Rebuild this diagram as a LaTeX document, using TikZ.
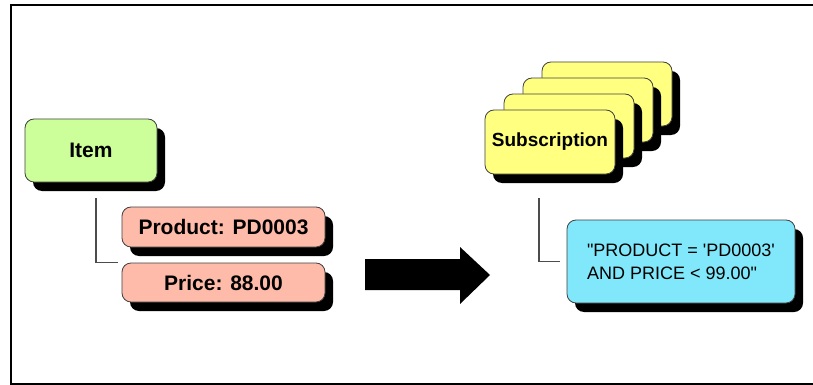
\documentclass[tikz,border=0pt]{standalone}
\usepackage{fontspec}
\setmainfont{Liberation Sans}
\usetikzlibrary{calc,shadows}

\definecolor{itemgreen}{RGB}{204,255,153}
\definecolor{fieldpink}{RGB}{255,187,170}
\definecolor{subyellow}{RGB}{255,255,128}
\definecolor{filtercyan}{RGB}{128,232,250}

\tikzset{
  card/.style={draw=black!75,line width=0.8pt,rounded corners=9pt,inner sep=0pt,
    drop shadow={shadow xshift=8pt,shadow yshift=-9pt,fill=black,opacity=1}},
  bigtext/.style={font=\bfseries\fontsize{21}{25}\selectfont},
  link/.style={draw=black!70,line width=1.2pt}
}

\begin{document}
\begin{tikzpicture}[x=1pt,y=-1pt]
\useasboundingbox (0,0) rectangle (813,385);
\fill[white] (0,0) rectangle (813,385);
\draw[line width=2pt] (813,5) -- (11,5) -- (11,384) -- (813,384); %frame

% left side: the item and its fields
\node[card,bigtext,fill=itemgreen,minimum width=132pt,minimum height=63pt] (item) at (91,150.5) {Item};
\node[card,bigtext,fill=fieldpink,minimum width=203pt,minimum height=40pt] (product) at (223.5,227) {Product: PD0003};
\node[card,bigtext,fill=fieldpink,minimum width=203pt,minimum height=39pt] (price) at (223.5,282.5) {Price: 88.00};
\draw[link] ($(item.south)+(5,16)$) |- ($(price.north west)+(-4,0)$);

% block arrow
\fill (365,259) -- (460,259) -- (460,247) -- (490,275) -- (460,304) -- (460,290) -- (365,290) -- cycle;

% right side: the subscriptions and the filter
\foreach \k in {3,2,1}
  \node[card,fill=subyellow,minimum width=130pt,minimum height=64pt] (sub\k) at ($(550,142)+(19*\k,-16*\k)$) {};
\node[card,fill=subyellow,minimum width=130pt,minimum height=64pt,font=\bfseries\fontsize{19}{23}\selectfont] (sub) at (550,142) {Subscription};
\node[card,fill=filtercyan,minimum width=228pt,minimum height=83pt,align=left,font=\fontsize{18}{23}\selectfont] (filter) at (681,261.5)
  {\textquotedbl PRODUCT = \textquotesingle PD0003\textquotesingle\\AND PRICE < 99.00\textquotedbl};
\draw[link] ($(sub.south)+(-11,24)$) |- ($(filter.west)+(-7,0)$);
\end{tikzpicture}
\end{document}
